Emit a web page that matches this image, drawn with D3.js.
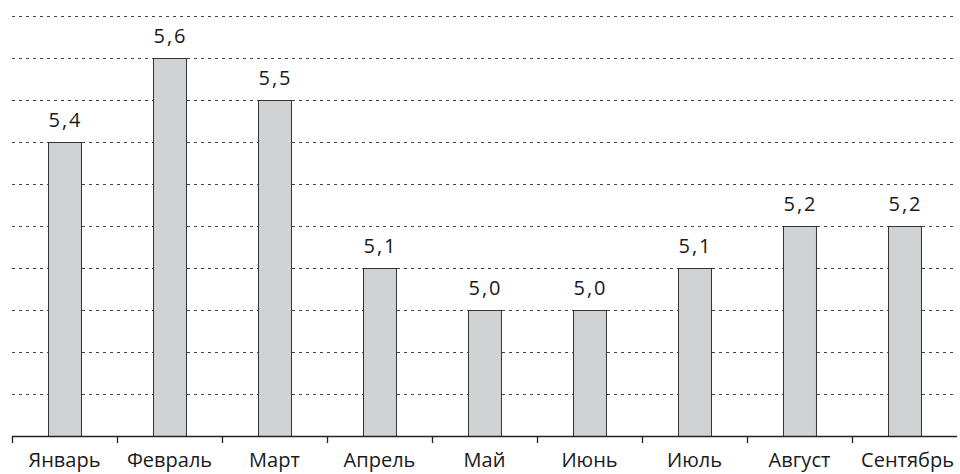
<!DOCTYPE html>
<html>
<head>
<meta charset="utf-8">
<script src="https://cdn.jsdelivr.net/npm/d3@7"></script>
<style>
  body { margin: 0; background: #fff; }
  text { font-family: "Open Sans", "Noto Sans", sans-serif; fill: #1a1a1a; }
</style>
</head>
<body>
<div id="chart"></div>
<script>
// data
const months = ["Январь", "Февраль", "Март", "Апрель", "Май", "Июнь", "Июль", "Август", "Сентябрь"];
const values = [5.4, 5.6, 5.5, 5.1, 5.0, 5.0, 5.1, 5.2, 5.2];
const gridValues = [4.8, 4.9, 5.0, 5.1, 5.2, 5.3, 5.4, 5.5, 5.6, 5.7];

const width = 960, height = 474;
const margin = { top: 16, right: 3, bottom: 38, left: 12 };

const svg = d3.select("#chart")
  .append("svg")
  .attr("width", width)
  .attr("height", height);

const x = d3.scaleBand()
  .domain(months)
  .range([margin.left, width - margin.right])
  .paddingInner(0.686)
  .paddingOuter(0.343);

const y = d3.scaleLinear()
  .domain([4.7, 5.7])
  .range([height - margin.bottom, margin.top]);

// dotted gridlines
svg.append("g")
  .selectAll("line")
  .data(gridValues)
  .enter()
  .append("line")
  .attr("x1", margin.left)
  .attr("x2", width - margin.right)
  .attr("y1", d => Math.round(y(d)) + 0.5)
  .attr("y2", d => Math.round(y(d)) + 0.5)
  .attr("stroke", "#444")
  .attr("stroke-width", 1)
  .attr("stroke-dasharray", "3,4");

// bars
svg.append("g")
  .selectAll("rect")
  .data(values)
  .enter()
  .append("rect")
  .attr("x", (d, i) => Math.round(x(months[i])) + 0.5)
  .attr("y", d => Math.round(y(d)) + 0.5)
  .attr("width", x.bandwidth())
  .attr("height", d => y(4.7) - Math.round(y(d)))
  .attr("fill", "#d1d2d4")
  .attr("stroke", "#333")
  .attr("stroke-width", 1);

// value labels
svg.append("g")
  .selectAll("text")
  .data(values)
  .enter()
  .append("text")
  .attr("x", (d, i) => x(months[i]) + x.bandwidth() / 2 + 1)
  .attr("y", d => y(d) - 15)
  .attr("text-anchor", "middle")
  .attr("font-size", 20)
  .attr("letter-spacing", 2)
  .text(d => d.toFixed(1).replace(".", ","));

// x axis with ticks at category boundaries
const step = x.step();
const axis = svg.append("g");
axis.append("line")
  .attr("x1", margin.left)
  .attr("x2", width - margin.right)
  .attr("y1", y(4.7) + 0.5)
  .attr("y2", y(4.7) + 0.5)
  .attr("stroke", "#222")
  .attr("stroke-width", 1.3);
axis.selectAll("line.tick")
  .data(months)
  .enter()
  .append("line")
  .attr("class", "tick")
  .attr("x1", (d, i) => Math.round(margin.left + i * step) + 0.5)
  .attr("x2", (d, i) => Math.round(margin.left + i * step) + 0.5)
  .attr("y1", y(4.7))
  .attr("y2", y(4.7) + 7)
  .attr("stroke", "#222")
  .attr("stroke-width", 1.3);
axis.selectAll("text")
  .data(months)
  .enter()
  .append("text")
  .attr("x", (d, i) => x(d) + x.bandwidth() / 2 + (i === months.length - 1 ? 3 : 0))
  .attr("y", height - 7)
  .attr("text-anchor", "middle")
  .attr("font-size", 20)
  .text(d => d);
</script>
</body>
</html>
